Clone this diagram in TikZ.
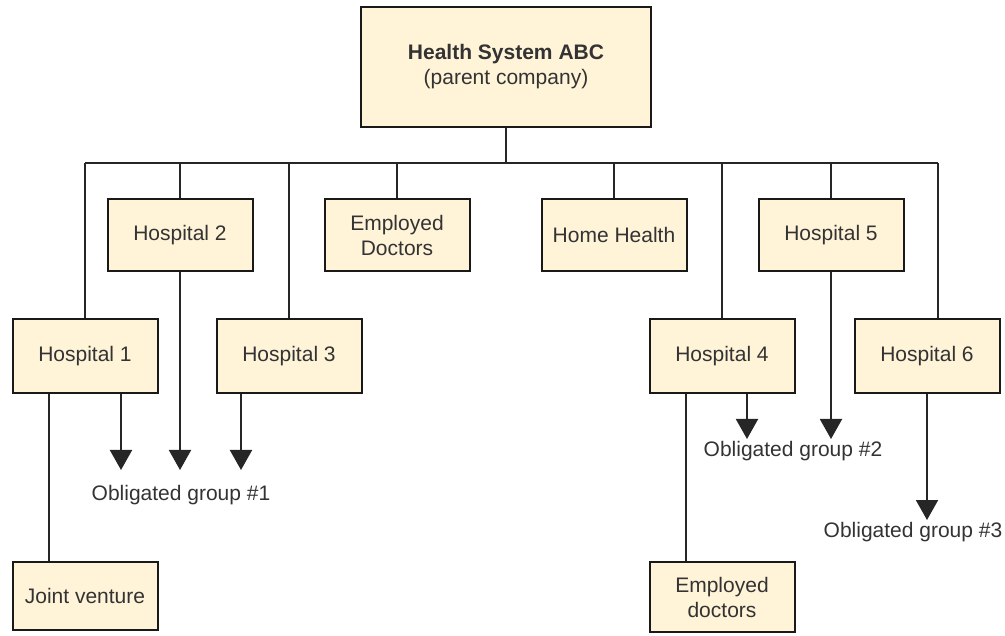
\documentclass[tikz,border=0pt]{standalone}
\usepackage{fontspec}
\setmainfont{Liberation Sans}
\usepackage{tikz}
\usetikzlibrary{arrows.meta}
\definecolor{boxfill}{HTML}{FFF3D8}
\definecolor{txtgray}{HTML}{333333}
\tikzstyle{unit} = [rectangle, minimum width=145pt, minimum height=72pt, align=center, text centered, draw=black!90, line width=2pt, fill=boxfill, text=txtgray, font=\fontsize{21}{25}\selectfont]
\tikzstyle{link} = [line width=2pt, draw=black!85]
\tikzstyle{arrow} = [link, -{Triangle[width=22pt,length=20pt]}]
\tikzstyle{group} = [text=txtgray, font=\fontsize{21}{25}\selectfont, inner sep=0pt]

\begin{document}
\begin{tikzpicture}[x=1pt, y=-1pt]
	\useasboundingbox (0,0) rectangle (1005,636);

	\node (parent) [unit, minimum width=290pt, minimum height=120pt] at (506,67) {\textbf{Health System ABC}\\(parent company)};
	\coordinate (busL) at (85,163);
	\coordinate (busR) at (938,163);

	\node (hosp2) [unit] at (180,235) {Hospital 2};
	\node (empdoc) [unit] at (397,235) {Employed\\Doctors};
	\node (home) [unit] at (614,235) {Home Health};
	\node (hosp5) [unit] at (831,235) {Hospital 5};

	\node (hosp1) [unit, minimum height=74pt] at (85,356) {Hospital 1};
	\node (hosp3) [unit, minimum height=74pt] at (289,356) {Hospital 3};
	\node (hosp4) [unit, minimum height=74pt] at (722,356) {Hospital 4};
	\node (hosp6) [unit, minimum height=74pt] at (927,356) {Hospital 6};

	\node (joint) [unit, minimum height=68pt] at (85,596) {Joint venture};
	\node (empdoc2) [unit, minimum height=70pt] at (722,597) {Employed\\doctors};

	\coordinate (tip1) at (121,470);
	\coordinate (tip2) at (180,470);
	\coordinate (tip3) at (241,470);
	\coordinate (tip4) at (747,439);
	\coordinate (tip5) at (831,439);
	\coordinate (tip6) at (927,520);
	\node (og1) [group] at (181,495) {Obligated group \#1};
	\node (og2) [group] at (793,451) {Obligated group \#2};
	\node (og3) [group] at (913,532) {Obligated group \#3};

	% tree lines
	\draw [link] (busL) -- (busR);
	\draw [link] (parent.south) -- (parent.south |- busL);
	\foreach \n in {hosp1, hosp2, hosp3, empdoc, home, hosp4, hosp5}
		\draw [link] (\n.north) -- (\n.north |- busL);
	\draw [link] (hosp6.north -| busR) -- (busR);
	\draw [link] (joint.north -| 49,0) -- (hosp1.south -| 49,0);
	\draw [link] (empdoc2.north -| 686,0) -- (hosp4.south -| 686,0);

	% obligated groups
	\draw [arrow] (hosp1.south -| tip1) -- (tip1);
	\draw [arrow] (hosp2.south) -- (tip2);
	\draw [arrow] (hosp3.south -| tip3) -- (tip3);
	\draw [arrow] (hosp4.south -| tip4) -- (tip4);
	\draw [arrow] (hosp5.south) -- (tip5);
	\draw [arrow] (hosp6.south) -- (tip6);
\end{tikzpicture}
\end{document}
